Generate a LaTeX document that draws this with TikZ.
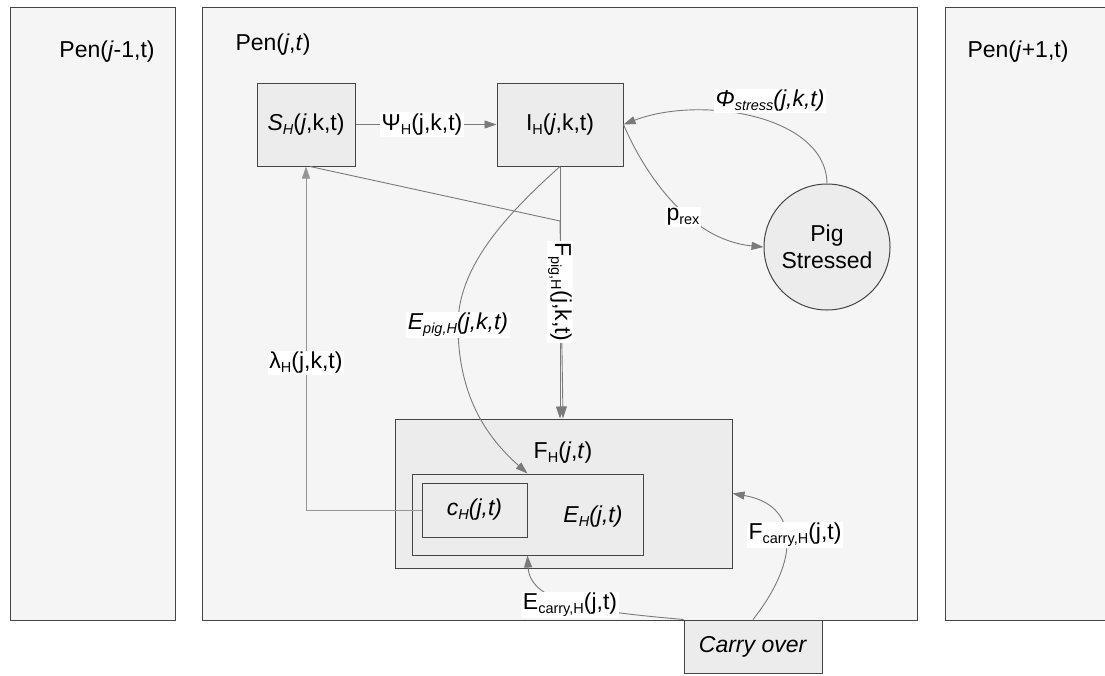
\documentclass[tikz,border=0pt]{standalone}
\usepackage{fontspec}
\setmainfont{Liberation Sans}
\usetikzlibrary{arrows.meta}
\definecolor{penfill}{HTML}{F5F5F5}
\definecolor{boxfill}{HTML}{ECECEC}
\definecolor{edgec}{HTML}{7A7A7A}
\definecolor{bord}{HTML}{454545}
\newcommand{\sbs}[1]{\raisebox{-4pt}{\fontsize{14.5}{14.5}\selectfont #1}}
\begin{document}
\begin{tikzpicture}[x=1pt,y=-1pt,
  font=\fontsize{23}{27}\selectfont,
  penbox/.style={draw=bord, fill=penfill, line width=1pt, inner sep=0pt},
  statebox/.style={draw=bord, fill=boxfill, line width=1pt, inner sep=0pt},
  txt/.style={inner sep=0pt},
  lbl/.style={fill=white, inner sep=1.5pt},
  edge/.style={draw=edgec, line width=0.9pt, -{Triangle[length=12pt,width=8pt]}},
  plain/.style={draw=edgec, line width=0.9pt}]
\clip (0,0) rectangle (1105,675);
\fill[white] (0,0) rectangle (1105,675);
% pens
\node[penbox, minimum width=165, minimum height=613] (penL) at (92.5,313.5) {};
\node[penbox, minimum width=715, minimum height=613] (penM) at (559.5,313.5) {};
\node[penbox, minimum width=170, minimum height=613] (penR) at (1030,313.5) {};
\node[txt] (penLt) at (107,52) {Pen(\textit{j}-1,t)};
\node[txt] (penMt) at (273,45) {Pen(\textit{j},\textit{t})};
\node[txt] (penRt) at (1018,52) {Pen(\textit{j}+1,t)};
% states
\node[statebox, minimum width=98, minimum height=83] (S) at (306,124.5) {\textit{S}\sbs{\textit{H}}(\textit{j},k,t)};
\node[statebox, minimum width=126, minimum height=83] (I) at (560,124.5) {I\sbs{H}(\textit{j},k,t)};
\node[statebox, circle, minimum size=126, align=center] (pig) at (827,247) {Pig\\Stressed};
\node[statebox, minimum width=337, minimum height=149] (F) at (563.5,493.5) {};
\node[statebox, minimum width=231, minimum height=81] (E) at (527.5,514.5) {};
\node[statebox, minimum width=105, minimum height=54] (c) at (474.5,510) {\textit{c\sbs{H}(j,t)}};
\node[txt] (Ft) at (563,453) {F\sbs{H}(\textit{j},\textit{t})};
\node[txt] (Et) at (593,517) {\textit{E\sbs{H}(j,t)}};
\node[statebox, minimum width=138, minimum height=53] (carry) at (753,646.5) {\textit{Carry over}};
% edges
\draw[edge] (S.east) -- (I.west);
\draw[edge] (pig.north) .. controls (826,115) and (700,95) .. (I.east);
\draw[edge] (I.east) .. controls (645,175) and (690,240) .. (pig.west);
\coordinate (join) at (560,221);
\draw[edge] ([xshift=4pt]S.south) -- (join) -- ([xshift=-0.5pt]F.north);
\draw[edge] (I.south) -- (I.south |- F.north);
\coordinate (emid) at (458,325);
\draw[plain] (I.south) .. controls (500,220) and (458,270) .. (emid);
\draw[edge] (emid) .. controls (458,400) and (490,440) .. (E.north);
\draw[edge, draw=edgec!80] (c.west) -| (S.south);
\draw[edge] (carry.north west) .. controls (600,612) and (530,605) .. (E.south);
\draw[edge] (carry.north) .. controls (800,560) and (800,505) .. (F.east);
% labels
\node[lbl] (lpsi) at (422,124.5) {Ψ\sbs{H}(j,k,t)};
\node[lbl] (lphi) at (770,101) {\textit{Φ\sbs{stress}(j,k,t)}};
\node[lbl] (lprex) at (683,217) {p\sbs{rex}};
\node[lbl, rotate=-90] (lfpig) at (560,292) {F\sbs{pig,H}(j,k,t)};
\node[lbl] (lepig) at (458,325) {\textit{E\sbs{pig,H}(j,k,t)}};
\node[lbl] (llam) at (306,363) {λ\sbs{H}(j,k,t)};
\node[lbl] (lecarry) at (570,605) {E\sbs{carry,H}(j,t)};
\node[lbl] (lfcarry) at (795,535) {F\sbs{carry,H}(j,t)};
\end{tikzpicture}
\end{document}
